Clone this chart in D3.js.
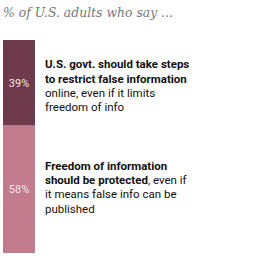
<!DOCTYPE html>
<html>
<head>
<meta charset="utf-8">
<script src="https://cdn.jsdelivr.net/npm/d3@7"></script>
<style>
  html, body { margin: 0; padding: 0; background: #fff; }
  svg { display: block; }
</style>
</head>
<body>
<svg id="chart" width="260" height="261"></svg>
<script>
// --- data ---
const categories = ["restrict", "protect"];
const values = [39, 58];
const colors = ["#6f3a4c", "#c17b8c"];
// each label: lines of [text, bold]
const labels = [
  [[["U.S. govt. should take steps", true]],
   [["to restrict false information", true]],
   [["online, even if it limits", false]],
   [["freedom of info", false]]],
  [[["Freedom of information", true]],
   [["should be protected", true], [", even if", false]],
   [["it means false info can be", false]],
   [["published", false]]]
];
const title = "% of U.S. adults who say ...";

const svg = d3.select("#chart");

svg.append("text")
  .attr("x", 3).attr("y", 17)
  .attr("font-family", "'DejaVu Serif', Georgia, serif")
  .attr("font-style", "italic")
  .attr("font-size", 12.4)
  .attr("fill", "#777")
  .text(title);

// stacked positions
let acc = 0;
const stacked = values.map((v, i) => {
  const d = { key: categories[i], value: v, y0: acc, y1: acc + v, i };
  acc += v;
  return d;
});

const y = d3.scaleLinear().domain([0, 100]).range([40, 259.6]);
const barX = 3, barW = 32;
const nudge = [3, -2]; // small vertical offset of each label block

const seg = svg.append("g").selectAll("g").data(stacked).join("g");

seg.append("rect")
  .attr("x", barX)
  .attr("y", d => y(d.y0))
  .attr("width", barW)
  .attr("height", d => y(d.y1) - y(d.y0))
  .attr("fill", d => colors[d.i]);

seg.append("text")
  .attr("x", barX + barW / 2)
  .attr("y", d => (y(d.y0) + y(d.y1)) / 2 + 4)
  .attr("text-anchor", "middle")
  .attr("font-family", "Roboto, sans-serif")
  .attr("font-size", 11)
  .attr("fill", "#f3e6ea")
  .text(d => d.value + "%");

const lineH = 14.3;
seg.each(function(d) {
  const lines = labels[d.i];
  const mid = (y(d.y0) + y(d.y1)) / 2 + nudge[d.i];
  const top = mid - (lines.length - 1) * lineH / 2 + 4;
  const t = d3.select(this).append("text")
    .attr("font-family", "Roboto, sans-serif")
    .attr("font-size", 11.5)
    .attr("fill", "#111");
  lines.forEach((parts, li) => {
    parts.forEach((p, pi) => {
      const ts = t.append("tspan")
        .attr("font-weight", p[1] ? 700 : 400)
        .text(p[0]);
      if (pi === 0) ts.attr("x", 45).attr("y", top + li * lineH);
    });
  });
});
</script>
</body>
</html>
